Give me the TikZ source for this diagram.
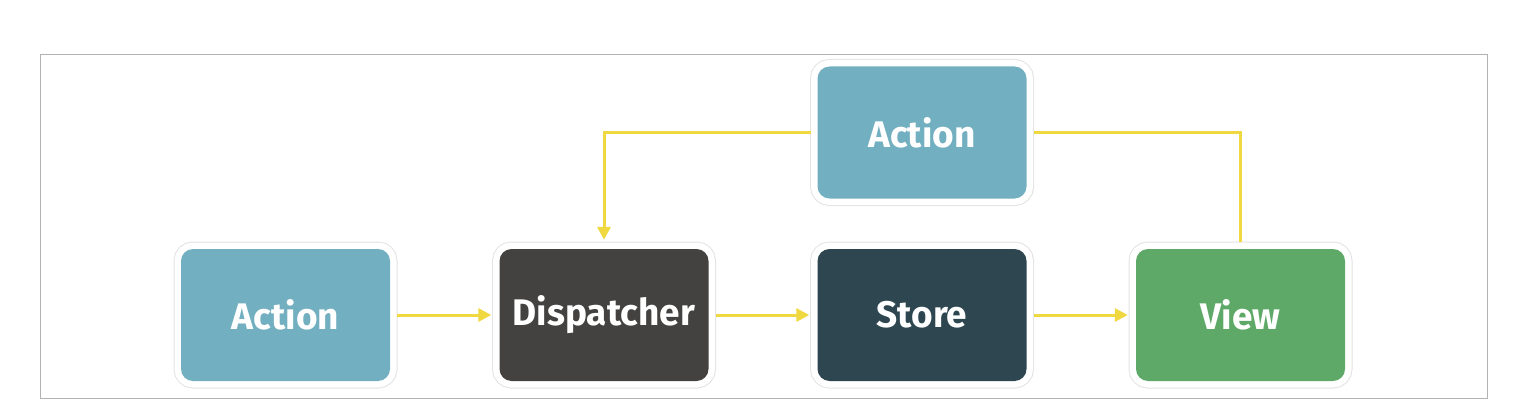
\documentclass[tikz,border=0pt]{standalone}
\usepackage{fontspec}
\setmainfont{Fira Sans}
\usetikzlibrary{arrows.meta}
\definecolor{actioncol}{HTML}{72AFC0}
\definecolor{dispcol}{HTML}{434241}
\definecolor{storecol}{HTML}{2E4650}
\definecolor{viewcol}{HTML}{5EA968}
\definecolor{arrowcol}{HTML}{F0D840}
\tikzset{
  flowbox/.style={rounded corners=12pt, minimum width=209pt, minimum height=132pt,
    inner sep=0pt, text=white, font=\fontsize{37}{42}\selectfont\bfseries,
    preaction={draw=black!11, line width=15pt},
    preaction={draw=white, line width=13pt}},
  flowarrow/.style={draw=arrowcol, line width=3pt, -{Triangle[length=13pt,width=13pt]}},
  flowline/.style={draw=arrowcol, line width=3pt}
}
\begin{document}
\begin{tikzpicture}[x=1pt,y=-1pt]
\useasboundingbox (0,0) rectangle (1536,417);
\fill[white] (0,0) rectangle (1536,417);
\draw[black!30, line width=1pt] (40,55) rectangle (1487,398);
\node[flowbox, fill=actioncol] (a1) at (285.5,315) {Action};
\node[flowbox, fill=dispcol] (disp) at (604,315) {Dispatcher};
\node[flowbox, fill=storecol] (store) at (922,315) {Store};
\node[flowbox, fill=viewcol] (view) at (1240.5,315) {View};
\node[flowbox, fill=actioncol] (top) at (922,132.5) {Action};
\draw[flowarrow, shorten <=7pt, shorten >=8pt] (a1.east) -- (disp.west);
\draw[flowarrow, shorten <=7pt, shorten >=8pt] (disp.east) -- (store.west);
\draw[flowarrow, shorten <=7pt, shorten >=8pt] (store.east) -- (view.west);
\draw[flowarrow, shorten <=6pt, shorten >=9pt] (top.west) -| (disp.north);
\draw[flowline, shorten <=7pt, shorten >=7pt] (top.east) -| (view.north);
\end{tikzpicture}
\end{document}
